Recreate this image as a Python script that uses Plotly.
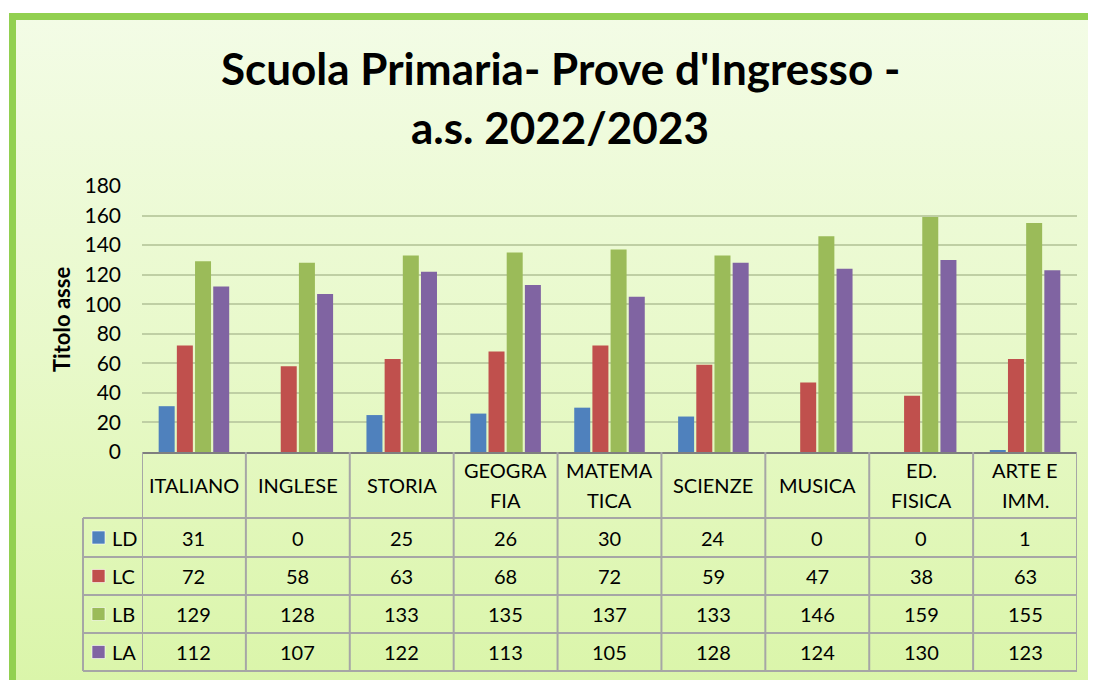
import base64
import plotly.graph_objects as go

# ---------------- data ----------------
categories = ["ITALIANO", "INGLESE", "STORIA", "GEOGRAFIA", "MATEMATICA",
              "SCIENZE", "MUSICA", "ED. FISICA", "ARTE E IMM."]
header_lines = [["ITALIANO"], ["INGLESE"], ["STORIA"], ["GEOGRA", "FIA"],
                ["MATEMA", "TICA"], ["SCIENZE"], ["MUSICA"], ["ED.", "FISICA"],
                ["ARTE E", "IMM."]]
series_names = ["LD", "LC", "LB", "LA"]
ld = [31, 0, 25, 26, 30, 24, 0, 0, 1]
lc = [72, 58, 63, 68, 72, 59, 47, 38, 63]
lb = [129, 128, 133, 135, 137, 133, 146, 159, 155]
la = [112, 107, 122, 113, 105, 128, 124, 130, 123]
series_values = [ld, lc, lb, la]
y_ticks = [0, 20, 40, 60, 80, 100, 120, 140, 160, 180]
title_lines = ["Scuola Primaria- Prove d'Ingresso -", "a.s. 2022/2023"]
y_title = "Titolo asse"

# ---------------- style ----------------
colors = ["#4f81bd", "#c0504d", "#9bbb59", "#8064a2"]
W, H = 1096, 680
FONT = "Lato"
OFF = 8  # page body margin


def px(x):
    return (x - OFF) / W


def py(y):
    return 1 - (y - OFF) / H


plot_left, plot_right = 142, 1077
plot_top, plot_bottom = 186, 452
row_bounds = [518, 557, 595, 633, 671]
table_left = 83

fig = go.Figure()
for name, vals, col in zip(series_names, series_values, colors):
    fig.add_trace(go.Bar(x=categories, y=vals, name=name, marker_color=col,
                         marker_line_width=0, showlegend=False))

shapes = []
annotations = []

# green frame
shapes.append(dict(type="rect", xref="paper", yref="paper",
                   x0=px(12.5), x1=px(1140), y0=py(16.5), y1=py(740),
                   line=dict(color="#92d050", width=7), fillcolor="rgba(0,0,0,0)",
                   layer="above"))

# table horizontal lines
for yb in row_bounds:
    shapes.append(dict(type="line", xref="paper", yref="paper",
                       x0=px(table_left), x1=px(plot_right), y0=py(yb), y1=py(yb),
                       line=dict(color="#a6a6a6", width=2)))
# table vertical lines
for k in range(len(categories) + 1):
    shapes.append(dict(type="line", xref="x", yref="paper",
                       x0=k - 0.5, x1=k - 0.5, y0=py(plot_bottom), y1=py(row_bounds[-1]),
                       line=dict(color="#a6a6a6", width=2)))
shapes.append(dict(type="line", xref="paper", yref="paper",
                   x0=px(table_left), x1=px(table_left), y0=py(row_bounds[0]),
                   y1=py(row_bounds[-1]), line=dict(color="#a6a6a6", width=2)))

tfont = dict(family=FONT, size=20, color="#000000")

# header labels
for cat, lines in zip(categories, header_lines):
    if len(lines) == 1:
        ys = [485]
    else:
        ys = [470, 500]
    for txt, yy in zip(lines, ys):
        annotations.append(dict(x=cat, xref="x", y=py(yy), yref="paper", text=txt,
                                showarrow=False, font=tfont, xanchor="center",
                                yanchor="middle"))

# data rows
for r, (name, vals, col) in enumerate(zip(series_names, series_values, colors)):
    yc = (row_bounds[r] + row_bounds[r + 1]) / 2
    for cat, v in zip(categories, vals):
        annotations.append(dict(x=cat, xref="x", y=py(yc), yref="paper", text=str(v),
                                showarrow=False, font=tfont, xanchor="center",
                                yanchor="middle"))
    shapes.append(dict(type="rect", xref="paper", yref="paper",
                       x0=px(92), x1=px(105), y0=py(yc - 6.5), y1=py(yc + 6.5),
                       fillcolor=col, line=dict(color="rgba(255,255,255,0.6)", width=1)))
    annotations.append(dict(x=px(110), xref="paper", y=py(yc), yref="paper", text=name,
                            showarrow=False, font=tfont, xanchor="left", yanchor="middle"))

# title
for txt, yy in zip(title_lines, [68, 127]):
    annotations.append(dict(x=px(560), xref="paper", y=py(yy), yref="paper",
                            text="<b>" + txt + "</b>", showarrow=False,
                            font=dict(family=FONT, size=44, color="#000000"),
                            xanchor="center", yanchor="middle"))

# y axis title
annotations.append(dict(x=px(62), xref="paper", y=py(320), yref="paper",
                        text="<b>" + y_title + "</b>", showarrow=False, textangle=-90,
                        font=dict(family=FONT, size=22, color="#000000"),
                        xanchor="center", yanchor="middle"))

# gradient background
svg = ('<svg xmlns="http://www.w3.org/2000/svg" width="100" height="100" '
       'preserveAspectRatio="none"><defs><linearGradient id="g" x1="0" y1="0" x2="0" y2="1">'
       '<stop offset="0" stop-color="#f3fce6"/><stop offset="0.5" stop-color="#e8f9ca"/>'
       '<stop offset="1" stop-color="#daf5a9"/></linearGradient></defs>'
       '<rect width="100" height="100" fill="url(#g)"/></svg>')
src = "data:image/svg+xml;base64," + base64.b64encode(svg.encode()).decode()

fig.update_layout(
    template="none",
    width=W, height=H,
    margin=dict(l=0, r=0, t=0, b=0),
    paper_bgcolor="#ffffff",
    plot_bgcolor="rgba(0,0,0,0)",
    barmode="group", bargap=0.3, bargroupgap=0.12,
    showlegend=False,
    shapes=shapes,
    annotations=annotations,
    images=[dict(source=src, xref="paper", yref="paper", x=px(12), y=py(16),
                 sizex=1 - px(12), sizey=py(16), sizing="stretch", layer="below",
                 xanchor="left", yanchor="top")],
    xaxis=dict(domain=[px(plot_left), px(plot_right)], type="category",
               range=[-0.5, len(categories) - 0.5], showticklabels=False,
               showgrid=False, showline=True, linecolor="#7f7f7f", linewidth=2,
               ticks="", zeroline=False, automargin=False, fixedrange=True),
    yaxis=dict(domain=[py(plot_bottom), py(plot_top)], range=[0, 180],
               tickvals=y_ticks, showgrid=True, gridcolor="#bfcfa4", gridwidth=2,
               zeroline=False, showline=False, ticks="",
               tickfont=dict(family=FONT, size=21, color="#000000"),
               ticklabelstandoff=20, automargin=False, fixedrange=True),
    font=dict(family=FONT),
)

fig.write_html("out.html")
